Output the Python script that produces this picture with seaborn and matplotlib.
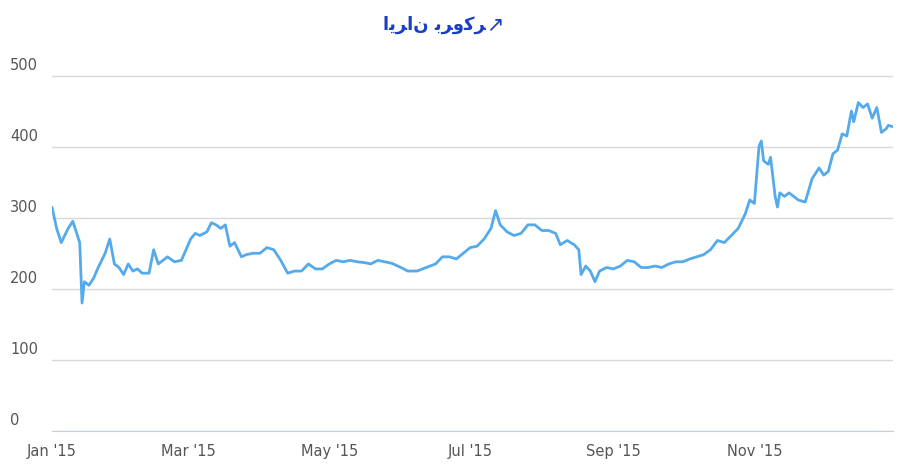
import matplotlib.pyplot as plt
import matplotlib.dates as mdates
import matplotlib.transforms as mtrans
import pandas as pd
import seaborn as sns

# approximate BTC price 2015
dates = ["2015-01-01", "2015-01-03", "2015-01-05", "2015-01-08", "2015-01-10", "2015-01-12",
         "2015-01-13", "2015-01-14", "2015-01-15", "2015-01-17", "2015-01-19", "2015-01-21",
         "2015-01-24", "2015-01-26", "2015-01-28", "2015-01-30", "2015-02-01", "2015-02-03",
         "2015-02-05", "2015-02-07", "2015-02-09", "2015-02-12", "2015-02-14", "2015-02-16",
         "2015-02-18", "2015-02-20", "2015-02-23", "2015-02-26", "2015-02-28", "2015-03-02",
         "2015-03-04", "2015-03-06", "2015-03-09", "2015-03-11", "2015-03-13", "2015-03-15",
         "2015-03-17", "2015-03-19", "2015-03-21", "2015-03-24", "2015-03-26", "2015-03-29",
         "2015-04-01", "2015-04-04", "2015-04-07", "2015-04-10", "2015-04-13", "2015-04-16",
         "2015-04-19", "2015-04-22", "2015-04-25", "2015-04-28", "2015-05-01", "2015-05-04",
         "2015-05-07", "2015-05-10", "2015-05-13", "2015-05-16", "2015-05-19", "2015-05-22",
         "2015-05-25", "2015-05-28", "2015-06-01", "2015-06-04", "2015-06-08", "2015-06-12",
         "2015-06-16", "2015-06-19", "2015-06-22", "2015-06-25", "2015-06-28", "2015-07-01",
         "2015-07-04", "2015-07-07", "2015-07-10", "2015-07-12", "2015-07-14", "2015-07-17",
         "2015-07-20", "2015-07-23", "2015-07-26", "2015-07-29", "2015-08-01", "2015-08-04",
         "2015-08-07", "2015-08-09", "2015-08-12", "2015-08-15", "2015-08-17", "2015-08-18",
         "2015-08-20", "2015-08-22", "2015-08-24", "2015-08-26", "2015-08-29", "2015-09-01",
         "2015-09-04", "2015-09-07", "2015-09-10", "2015-09-13", "2015-09-16", "2015-09-19",
         "2015-09-22", "2015-09-25", "2015-09-28", "2015-10-01", "2015-10-04", "2015-10-07",
         "2015-10-10", "2015-10-13", "2015-10-16", "2015-10-19", "2015-10-22", "2015-10-25",
         "2015-10-28", "2015-10-30", "2015-11-01", "2015-11-03", "2015-11-04", "2015-11-05",
         "2015-11-07", "2015-11-08", "2015-11-10", "2015-11-11", "2015-11-12", "2015-11-14",
         "2015-11-16", "2015-11-18", "2015-11-20", "2015-11-23", "2015-11-26", "2015-11-29",
         "2015-12-01", "2015-12-03", "2015-12-05", "2015-12-07", "2015-12-09", "2015-12-11",
         "2015-12-13", "2015-12-14", "2015-12-16", "2015-12-18", "2015-12-20", "2015-12-22",
         "2015-12-24", "2015-12-26", "2015-12-28", "2015-12-29", "2015-12-31"]
prices = [315, 285, 265, 285, 295, 275,
          265, 180, 210, 205, 215, 230,
          250, 270, 235, 230, 220, 235,
          225, 228, 222, 222, 255, 235,
          240, 245, 238, 240, 255, 270,
          278, 275, 280, 293, 290, 285,
          290, 260, 265, 245, 248, 250,
          250, 258, 255, 240, 222, 225,
          225, 235, 228, 228, 235, 240,
          238, 240, 238, 237, 235, 240,
          238, 236, 230, 225, 225, 230,
          235, 245, 245, 242, 250, 258,
          260, 270, 285, 310, 290, 280,
          275, 278, 290, 290, 282, 282,
          278, 262, 268, 262, 255, 220,
          232, 225, 210, 225, 230, 228,
          232, 240, 238, 230, 230, 232,
          230, 235, 238, 238, 242, 245,
          248, 255, 268, 265, 275, 285,
          305, 325, 320, 400, 408, 380,
          375, 385, 330, 315, 335, 330,
          335, 330, 325, 322, 355, 370,
          360, 365, 390, 395, 418, 415,
          450, 435, 462, 455, 460, 440,
          455, 420, 425, 430, 428]
y_ticks = [0, 100, 200, 300, 400, 500]

df = pd.DataFrame({"date": pd.to_datetime(dates), "price": prices})

sns.set_style("white")
fig = plt.figure(figsize=(9, 4.71), dpi=100)
ax = fig.add_axes([52 / 900, 1 - 431 / 471, 841 / 900, 391 / 471])
sns.lineplot(data=df, x="date", y="price", ax=ax, color="#55aaeb", linewidth=2)

ax.set_ylim(0, 550)
ax.set_xlim(pd.Timestamp("2015-01-01"), pd.Timestamp("2015-12-31"))
ax.set_yticks(y_ticks)
ax.set_yticklabels([])
ax.tick_params(axis="y", length=0)
ax.grid(axis="y", color="#d8d8d8", linewidth=1)
for s in ["top", "right", "left"]:
    ax.spines[s].set_visible(False)
ax.spines["bottom"].set_color("#c8cfdc")
trans = mtrans.blended_transform_factory(fig.transFigure, ax.transData)
for t in y_ticks:
    ax.text(10 / 900, t + 4, str(t), transform=trans, fontsize=10.5, color="#555555", ha="left", va="bottom")

ax.xaxis.set_major_locator(mdates.MonthLocator(bymonth=[1, 3, 5, 7, 9, 11]))
ax.xaxis.set_major_formatter(mdates.DateFormatter("%b '%y"))
ax.tick_params(axis="x", length=6, color="#c8cfdc", labelsize=10.5, labelcolor="#555555")
ax.set_xlabel("")
ax.set_ylabel("")

# logo text (pre-shaped Persian presentation forms)
logo = "\uFE8D\uFBFE\uFEAE\uFE8D\uFEE5 \uFE91\uFEAE\uFEED\uFB90\uFEAE"
fig.text(0.483, 0.948, logo, fontsize=13, fontweight="bold", color="#1a3fc4", ha="center", va="center",
         family=["DejaVu Sans"])
fig.text(0.55, 0.948, "\u2197", fontsize=15, color="#1a3fc4", ha="center", va="center")

fig.savefig("out.png", dpi=100)
